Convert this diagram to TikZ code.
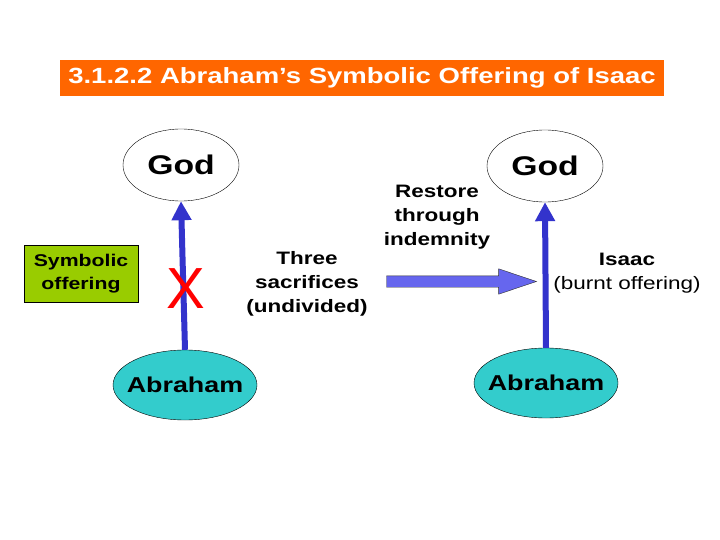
\documentclass[tikz,border=0pt]{standalone}
\usepackage{fontspec}
\setmainfont{Liberation Sans}[FakeStretch=1.25]
\newfontfamily\plainfont{Liberation Sans}
\usetikzlibrary{arrows.meta,shapes.geometric,shapes.arrows}

\definecolor{titleorange}{HTML}{FF6600}
\definecolor{offergreen}{HTML}{99CC00}
\definecolor{abrahamcyan}{HTML}{33CCCC}
\definecolor{arrowblue}{HTML}{3333CC}
\definecolor{blockblue}{HTML}{6666EE}

\begin{document}
\begin{tikzpicture}[x=1pt, y=-1pt,
	godnode/.style={ellipse, draw, thin, minimum width=116pt, minimum height=72pt, inner sep=0pt, font=\fontsize{27}{30}\selectfont\bfseries},
	mannode/.style={ellipse, draw, thin, fill=abrahamcyan, minimum width=144pt, minimum height=70pt, inner xsep=-20pt, inner ysep=0pt, font=\fontsize{21.5}{24}\selectfont\bfseries},
	uparrow/.style={draw=arrowblue, line width=6pt, -{Triangle[width=19pt,length=19pt]}},
	note/.style={align=center, inner sep=0pt, font=\fontsize{18}{24}\selectfont\bfseries}]
	% Page
	\useasboundingbox (0,0) rectangle (720,540);
	
	% Title banner
	\node[fill=titleorange, text=white, minimum width=604pt, minimum height=36pt, inner sep=0pt, font=\fontsize{22}{26}\selectfont\bfseries] (title) at (362,78) {3.1.2.2 Abraham’s Symbolic Offering of Isaac};
	
	% Left side: symbolic offering
	\node[godnode] (godL) at (181,165) {God};
	\node[mannode] (abrL) at (185,385) {Abraham};
	\draw[uparrow] (abrL.north) -- (godL.south);
	\node[text=red, inner sep=0pt, font=\plainfont\fontsize{58}{60}\selectfont] (cross) at (186,289) {X};
	\node[draw, thin, fill=offergreen, minimum width=114pt, minimum height=57pt, inner sep=0pt, align=center, font=\fontsize{17}{23}\selectfont\bfseries] (symbolic) at (81,273.5) {Symbolic\\offering};
	\node[note] (three) at (307,284) {Three\\sacrifices\\(undivided)};
	
	% Middle: block arrow
	\node[single arrow, draw=black!80, thin, fill=blockblue, minimum width=25pt, minimum height=150pt, inner xsep=0pt, inner ysep=5.5pt, single arrow head extend=7pt, single arrow tip angle=37] (restoreArrow) at (453,281.5) {};
	\node[note] (restore) at (437,217) {Restore\\through\\indemnity};
	
	% Right side: burnt offering
	\node[godnode] (godR) at (545,166) {God};
	\node[mannode] (abrR) at (546,383) {Abraham};
	\draw[uparrow] (abrR.north) -- (godR.south);
	\node[note] (isaac) at (627,273) {Isaac\\{\mdseries (burnt offering)}};
	
\end{tikzpicture}
\end{document}
